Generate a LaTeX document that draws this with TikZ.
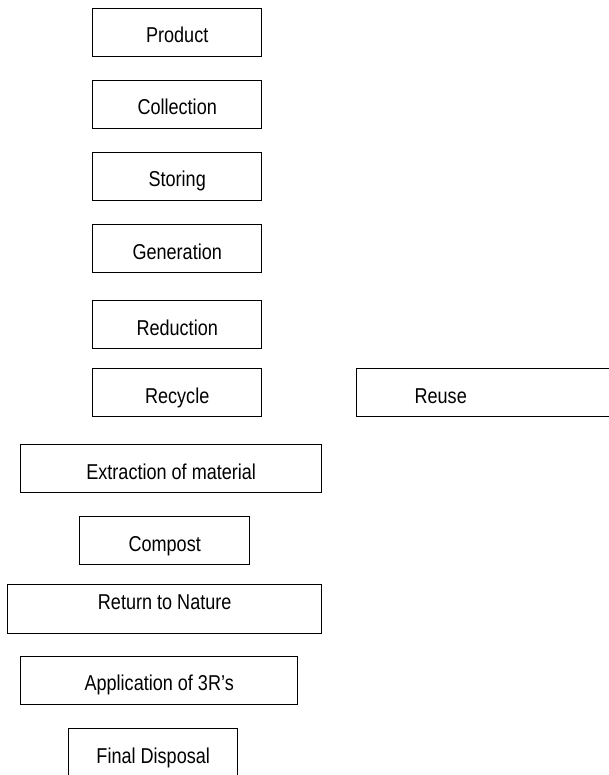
\documentclass[tikz,border=0pt]{standalone}
\usepackage{fontspec}
\newfontfamily\boxfont[FakeStretch=0.84]{Liberation Sans}
\begin{document}
\begin{tikzpicture}[x=1pt,y=1pt,
  box/.style={draw=black, line width=1.4pt, rectangle, inner sep=0pt, anchor=north west},
  lbl/.style={anchor=base, inner sep=0pt, text=black, font=\boxfont\fontsize{21.5}{24}\selectfont}]
\useasboundingbox (0,0) rectangle (609,-775);
\clip (0,0) rectangle (609,-775);

% boxes: top-left corner, width x height
\node[box, minimum width=169pt, minimum height=48pt] (product)     at (92,-8)   {};
\node[box, minimum width=169pt, minimum height=48pt] (collection)  at (92,-80)  {};
\node[box, minimum width=169pt, minimum height=48pt] (storing)     at (92,-152) {};
\node[box, minimum width=169pt, minimum height=48pt] (generation)  at (92,-224) {};
\node[box, minimum width=169pt, minimum height=48pt] (reduction)   at (92,-300) {};
\node[box, minimum width=169pt, minimum height=48pt] (recycle)     at (92,-368) {};
\node[box, minimum width=290pt, minimum height=48pt] (reuse)       at (356,-368) {};
\node[box, minimum width=301pt, minimum height=48pt] (extraction)  at (20,-444) {};
\node[box, minimum width=170pt, minimum height=48pt] (compost)     at (79,-516) {};
\node[box, minimum width=314pt, minimum height=49pt] (nature)      at (7,-584)  {};
\node[box, minimum width=277pt, minimum height=48pt] (application) at (20,-656) {};
\node[box, minimum width=169pt, minimum height=70pt] (disposal)    at (68,-728) {};

% labels
\node[lbl] (product-t)     at ([yshift=-35pt]product.north)     {Product};
\node[lbl] (collection-t)  at ([yshift=-35pt]collection.north)  {Collection};
\node[lbl] (storing-t)     at ([yshift=-35pt]storing.north)     {Storing};
\node[lbl] (generation-t)  at ([yshift=-35pt]generation.north)  {Generation};
\node[lbl] (reduction-t)   at ([yshift=-35pt]reduction.north)   {Reduction};
\node[lbl] (recycle-t)     at ([yshift=-35pt]recycle.north)     {Recycle};
\node[lbl] (reuse-t)       at ([xshift=84.7pt,yshift=-35pt]reuse.north west) {Reuse};
\node[lbl] (extraction-t)  at ([yshift=-35pt]extraction.north)  {Extraction of material};
\node[lbl] (compost-t)     at ([yshift=-35.5pt]compost.north)   {Compost};
\node[lbl] (nature-t)      at ([yshift=-25pt]nature.north)      {Return to Nature};
\node[lbl] (application-t) at ([yshift=-34.7pt]application.north) {Application of 3R’s};
\node[lbl] (disposal-t)    at ([yshift=-35pt]disposal.north)    {Final Disposal};
\end{tikzpicture}
\end{document}
